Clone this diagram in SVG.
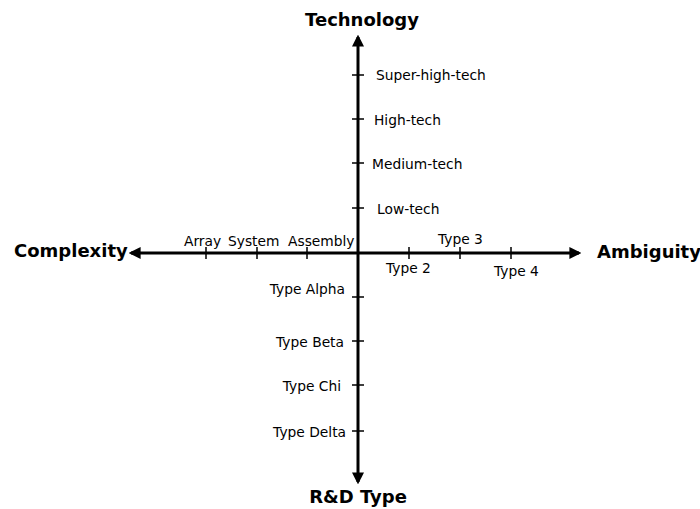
<svg xmlns="http://www.w3.org/2000/svg" width="700" height="509" viewBox="0 0 700 509">
<style>
.ax{stroke:#000;stroke-width:3;fill:none}
.tk{stroke:#000;stroke-width:1.5}
.lb{font-family:"DejaVu Sans",Verdana,sans-serif;font-size:13.8px;fill:#000}
.tt{font-family:"DejaVu Sans",Verdana,sans-serif;font-size:18px;font-weight:bold;fill:#000}
</style>
<defs>
<marker id="ah" viewBox="0 0 10 10" refX="8" refY="5" markerWidth="4" markerHeight="4" orient="auto" markerUnits="strokeWidth">
<path d="M0,0 L10,5 L0,10 Z" fill="#000"/>
</marker>
</defs>
<rect width="700" height="509" fill="#fff"/>
<g id="connectors">
<line class="ax" x1="358" y1="253" x2="358" y2="37" marker-end="url(#ah)"/>
<line class="ax" x1="358" y1="253" x2="358" y2="482" marker-end="url(#ah)"/>
<line class="ax" x1="358" y1="253" x2="131" y2="253" marker-end="url(#ah)"/>
<line class="ax" x1="358" y1="253" x2="579" y2="253" marker-end="url(#ah)"/>
<path class="tk" d="M352,75H364M352,119H364M352,163H364M352,208H364M352,297H364M352,341H364M352,385H364M352,431H364M206,247V259M257,247V259M307,247V259M409,247V259M460,247V259M511,247V259"/>
</g>
<g id="technology"><text class="tt" x="362" y="26" text-anchor="middle">Technology</text></g>
<g id="rd-type"><text class="tt" x="358" y="503" text-anchor="middle">R&amp;D Type</text></g>
<g id="complexity"><text class="tt" x="14" y="257">Complexity</text></g>
<g id="ambiguity"><text class="tt" x="597" y="258">Ambiguity</text></g>
<g id="tech-labels">
<text class="lb" x="376" y="80">Super-high-tech</text>
<text class="lb" x="374" y="125">High-tech</text>
<text class="lb" x="372" y="169">Medium-tech</text>
<text class="lb" x="377" y="214">Low-tech</text>
</g>
<g id="rd-labels">
<text class="lb" x="345" y="294" text-anchor="end">Type Alpha</text>
<text class="lb" x="344" y="347" text-anchor="end">Type Beta</text>
<text class="lb" x="341" y="391" text-anchor="end">Type Chi</text>
<text class="lb" x="346" y="437" text-anchor="end">Type Delta</text>
</g>
<g id="complexity-labels">
<text class="lb" x="184" y="246">Array</text>
<text class="lb" x="228" y="246">System</text>
<text class="lb" x="288" y="246">Assembly</text>
</g>
<g id="ambiguity-labels">
<text class="lb" x="386" y="273">Type 2</text>
<text class="lb" x="438" y="244">Type 3</text>
<text class="lb" x="494" y="276">Type 4</text>
</g>
</svg>
